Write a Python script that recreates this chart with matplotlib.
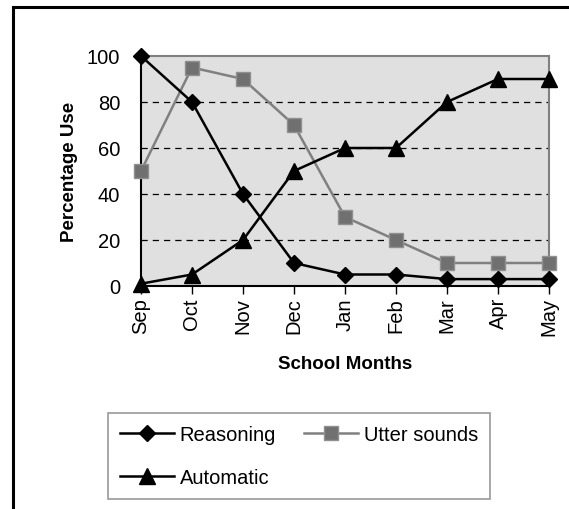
import matplotlib
matplotlib.use("Agg")
import matplotlib.pyplot as plt
from matplotlib.lines import Line2D

months = ["Sep", "Oct", "Nov", "Dec", "Jan", "Feb", "Mar", "Apr", "May"]
reasoning = [100, 80, 40, 10, 5, 5, 3, 3, 3]
utter_sounds = [50, 95, 90, 70, 30, 20, 10, 10, 10]
automatic = [1, 5, 20, 50, 60, 60, 80, 90, 90]
y_ticks = [0, 20, 40, 60, 80, 100]

plt.rcParams['font.family'] = ['Liberation Sans', 'DejaVu Sans']

W, H = 569, 510
fig = plt.figure(figsize=(W / 100, H / 100), dpi=100)

# outer border (clipped at right and bottom)
fig.add_artist(Line2D([13 / W, 13 / W], [0, 1 - 8 / H], color='black', lw=2.2, transform=fig.transFigure))
fig.add_artist(Line2D([13 / W, 1], [1 - 8 / H, 1 - 8 / H], color='black', lw=2.2, transform=fig.transFigure))

left, right, top, bottom = 141, 549, 57, 287
ax = fig.add_axes([left / W, 1 - bottom / H, (right - left) / W, (bottom - top) / H])
ax.set_facecolor('#e0e0e0')
x = list(range(len(months)))

for yv in y_ticks[1:-1]:
    ax.axhline(yv, color='black', lw=0.9, ls=(0, (5, 4)), zorder=1)

l_r, = ax.plot(x, reasoning, color='black', lw=1.8, marker='D', ms=8, mfc='black', mec='black',
               clip_on=False, zorder=4, label='Reasoning')
l_u, = ax.plot(x, utter_sounds, color='#808080', lw=1.8, marker='s', ms=10.5, mfc='#707070', mec='#909090',
               clip_on=False, zorder=3, label='Utter sounds')
l_a, = ax.plot(x, automatic, color='black', lw=1.8, marker='^', ms=11, mfc='black', mec='black',
               clip_on=False, zorder=5, label='Automatic')

ax.set_xlim(0, len(months) - 1)
ax.set_ylim(0, 100)
ax.set_xticks(x)
ax.set_xticklabels(months, rotation=90, fontsize=14.5)
ax.set_yticks(y_ticks)
ax.set_yticklabels([str(v) for v in y_ticks], fontsize=14.5)
ax.tick_params(axis='x', direction='out', length=6, width=1, pad=2)
ax.tick_params(axis='y', length=0, pad=15)

ax.spines['left'].set_color('black')
ax.spines['bottom'].set_color('black')
ax.spines['top'].set_color('#808080')
ax.spines['right'].set_color('#808080')
for s in ax.spines.values():
    s.set_linewidth(1.5)

ax.set_ylabel('Percentage Use', fontsize=13.5, fontweight='bold', labelpad=6)
ax.set_xlabel('School Months', fontsize=13.5, fontweight='bold', labelpad=14)

leg = fig.legend([l_r, l_a, l_u], ['Reasoning', 'Automatic', 'Utter sounds'], ncol=2, loc='center',
                 bbox_to_anchor=((111 + 487) / 2 / W, 1 - (412 + 502) / 2 / H),
                 fontsize=14.5, frameon=True, fancybox=False, edgecolor='#808080',
                 handlelength=2.65, handletextpad=0.3, columnspacing=1.4,
                 labelspacing=1.2, borderpad=0.6, borderaxespad=0)
leg.get_frame().set_linewidth(1.2)

fig.savefig('out.png', dpi=100)
